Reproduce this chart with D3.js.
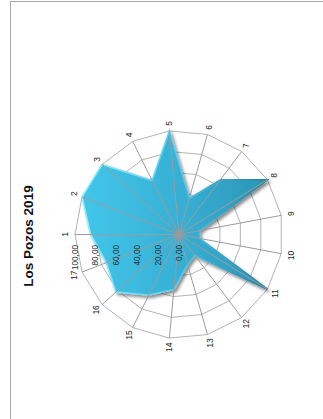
<!DOCTYPE html>
<html>
<head>
<meta charset="utf-8">
<script src="https://cdn.jsdelivr.net/npm/d3@7"></script>
<style>
  html, body { margin: 0; padding: 0; background: #fff; }
  svg { display: block; }
</style>
</head>
<body>
<script>
// Radar data: 17 sampling points, one value each
const categories = ["1","2","3","4","5","6","7","8","9","10","11","12","13","14","15","16","17"];
const values = [85, 100, 100, 58, 100, 36, 66, 100, 20, 20, 100, 25, 30, 53, 65, 82, 75];
const tickValues = [0, 20, 40, 60, 80, 100];
const tickLabels = ["0,00", "20,00", "40,00", "60,00", "80,00", "100,00"];
const title = "Los Pozos 2019";

const W = 323, H = 419;
const cx = 179, cy = 234.5, R = 104;
const font = "'Liberation Sans', Arial, sans-serif";

const svg = d3.select("body").append("svg")
  .attr("width", W).attr("height", H);

// frame
svg.append("rect")
  .attr("x", 10.5).attr("y", 1.5)
  .attr("width", 400).attr("height", 500)
  .attr("fill", "#fff").attr("stroke", "#a9a9a9").attr("stroke-width", 1);

const defs = svg.append("defs");
const grad = defs.append("linearGradient").attr("id", "fillGrad")
  .attr("x1", "0%").attr("y1", "0%").attr("x2", "100%").attr("y2", "0%");
grad.append("stop").attr("offset", "0%").attr("stop-color", "#43c6ea");
grad.append("stop").attr("offset", "55%").attr("stop-color", "#36afd4");
grad.append("stop").attr("offset", "100%").attr("stop-color", "#2b95b6");

const sgrad = defs.append("linearGradient").attr("id", "strokeGrad")
  .attr("x1", "0%").attr("y1", "0%").attr("x2", "100%").attr("y2", "0%");
sgrad.append("stop").attr("offset", "0%").attr("stop-color", "#8eeeff");
sgrad.append("stop").attr("offset", "45%").attr("stop-color", "#5fd2f2");
sgrad.append("stop").attr("offset", "100%").attr("stop-color", "#237f9e");

const shadow = defs.append("filter").attr("id", "shadow")
  .attr("x", "-20%").attr("y", "-20%").attr("width", "140%").attr("height", "140%");
shadow.append("feDropShadow")
  .attr("dx", 2).attr("dy", 2.5).attr("stdDeviation", 1.6)
  .attr("flood-color", "#000").attr("flood-opacity", 0.45);

// scales: angle runs clockwise starting from the left
const n = categories.length;
const angle = d3.scaleLinear().domain([0, n]).range([0, 2 * Math.PI]);
const radius = d3.scaleLinear().domain([0, 100]).range([0, R]);
const pt = (i, v) => {
  const a = angle(i), r = radius(v);
  return [cx - r * Math.cos(a), cy - r * Math.sin(a)];
};

// rings
const rings = svg.append("g");
tickValues.filter(t => t > 0).forEach(t => {
  rings.append("polygon")
    .attr("points", categories.map((c, i) => pt(i, t).join(",")).join(" "))
    .attr("fill", "none").attr("stroke", "#b3b3b3").attr("stroke-width", 1);
});

// data area
svg.append("polygon")
  .attr("points", values.map((v, i) => pt(i, v).join(",")).join(" "))
  .attr("fill", "url(#fillGrad)")
  .attr("stroke", "url(#strokeGrad)").attr("stroke-width", 1.6)
  .attr("stroke-linejoin", "miter")
  .attr("filter", "url(#shadow)");

// spokes
const spokes = svg.append("g");
categories.forEach((c, i) => {
  const [x, y] = pt(i, 100);
  spokes.append("line")
    .attr("x1", cx).attr("y1", cy).attr("x2", x).attr("y2", y)
    .attr("stroke", "#9c9c9c").attr("stroke-width", 1);
});

// centre marker
svg.append("circle").attr("cx", cx).attr("cy", cy).attr("r", 3.5).attr("fill", "#9a9a9a");

// category labels (text rotated with the chart)
categories.forEach((c, i) => {
  const a = angle(i);
  const t = svg.append("text")
    .attr("font-family", font).attr("font-size", 8.5).attr("fill", "#222")
    .attr("text-anchor", "middle").attr("dominant-baseline", "central")
    .text(c);
  const w = t.node().getComputedTextLength();
  const ca = Math.cos(a), sa = Math.sin(a);
  const r = R + 6 + 4 * Math.pow(ca, 4) + 0.35 * Math.pow(sa, 4) * w;
  const x = cx - r * ca, y = cy - r * sa;
  t.attr("transform", `translate(${x},${y}) rotate(-90)`);
});

// value axis labels along the first spoke
tickValues.forEach((t, k) => {
  const x = cx - radius(t);
  svg.append("text")
    .attr("font-family", font).attr("font-size", 8.2).attr("fill", "#1f2a30")
    .attr("text-anchor", "end").attr("dominant-baseline", "central")
    .attr("transform", `translate(${x},${cy + 10.5}) rotate(-90)`)
    .text(tickLabels[k]);
});

// title
svg.append("text")
  .attr("font-family", font).attr("font-size", 13.5).attr("font-weight", "bold").attr("fill", "#111")
  .attr("text-anchor", "middle").attr("dominant-baseline", "central")
  .attr("transform", `translate(28,236) rotate(-90)`)
  .text(title);
</script>
</body>
</html>
